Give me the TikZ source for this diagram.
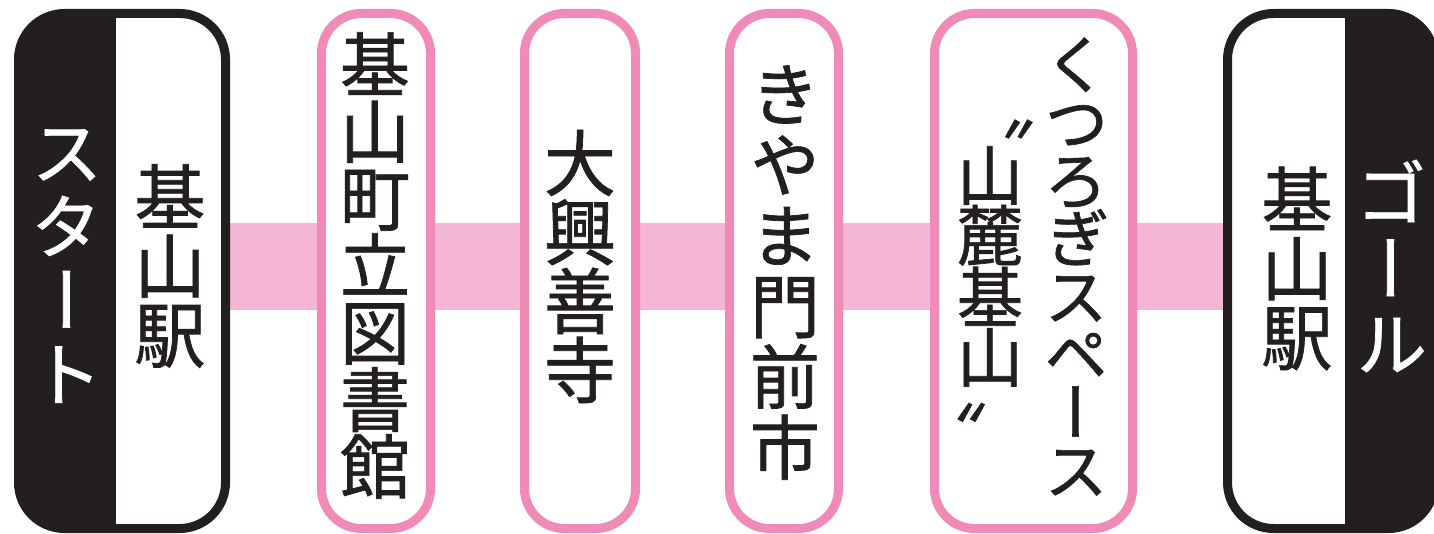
\documentclass[tikz,border=0pt]{standalone}
\usepackage{fontspec}
\usetikzlibrary{backgrounds}
\newfontfamily\jpv[RawFeature={+vert}, UprightFeatures={FakeBold=1}]{Noto Sans CJK JP}
\definecolor{ink}{HTML}{231F20}
\definecolor{pinkline}{HTML}{F08AB6}
\definecolor{pinkband}{HTML}{F5B5D4}
\tikzset{
  stationbox/.style={draw=pinkline, line width=9pt, fill=white, rounded corners=40pt,
    minimum height=515pt, inner sep=0pt},
  endbox/.style={draw=ink, line width=9pt, fill=white, rounded corners=46pt,
    minimum width=207pt, minimum height=515pt, inner sep=0pt},
  band/.style={pinkband, line width=87pt},
  vcol/.style={align=center, inner sep=0pt, text=ink},
  fs/.style 2 args={font=\jpv\fontsize{#1}{#2}\selectfont},
}
\begin{document}
\begin{tikzpicture}[x=1pt,y=-1pt]
\useasboundingbox (0,0) rectangle (1434,534);
\begin{scope}
\clip (0,0) rectangle (1434,534);
% boxes
\node[endbox, path picture={\fill[ink, sharp corners] (path picture bounding box.north west) rectangle ([xshift=97.5pt]path picture bounding box.south west);}] (start) at (122,271) {};
\node[stationbox, minimum width=109pt] (lib) at (376,271) {};
\node[stationbox, minimum width=111pt] (dai) at (580,271) {};
\node[stationbox, minimum width=109pt] (kiy) at (784,271) {};
\node[stationbox, minimum width=198pt] (kut) at (1033.5,271) {};
\node[endbox, path picture={\fill[ink, sharp corners] (path picture bounding box.north east) rectangle ([xshift=-89.5pt]path picture bounding box.south east);}] (goal) at (1331,271) {};
% band
\begin{pgfonlayer}{background}
\draw[band] ([yshift=4.5pt]start.east) -- ([yshift=4.5pt]lib.west);
\draw[band] ([yshift=4.5pt]lib.east) -- ([yshift=4.5pt]dai.west);
\draw[band] ([yshift=4.5pt]dai.east) -- ([yshift=4.5pt]kiy.west);
\draw[band] ([yshift=4.5pt]kiy.east) -- ([yshift=4.5pt]kut.west);
\draw[band] ([yshift=4.5pt]kut.east) -- ([yshift=4.5pt]goal.west);
\end{pgfonlayer}
\end{scope}
% texts
\node[vcol, text=white, fs={72}{74}] (tstart) at (67,266) {ス\\タ\\ー\\ト};
\node[vcol, fs={71}{69}] (tstartst) at (170,266) {基\\山\\駅};
\node[vcol, fs={70}{67}] (tlib) at (375,265.5) {基\\山\\町\\立\\図\\書\\館};
\node[vcol, fs={72}{69}] (tdai) at (580,266.5) {大\\興\\善\\寺};
\node[vcol, fs={70}{70.6}] (tkiy) at (785,272.5) {き\\や\\ま\\門\\前\\市};
\node[vcol, fs={64}{58}] (tkut) at (1076,266.5) {く\\つ\\ろ\\ぎ\\ス\\ペ\\ー\\ス};
\node[vcol, fs={66}{60}] (tsan) at (990,266.5) {山\\麓\\基\\山};
\node[vcol, fs={66}{60}] (qopen) at (1001,129) {〝};
\node[vcol, fs={66}{60}] (qclose) at (989,431) {〟};
\node[vcol, fs={71}{69}] (tgoalst) at (1297,268.5) {基\\山\\駅};
\node[vcol, text=white, fs={72}{75}] (tgoal) at (1391,266) {ゴ\\ー\\ル};
\end{tikzpicture}
\end{document}
